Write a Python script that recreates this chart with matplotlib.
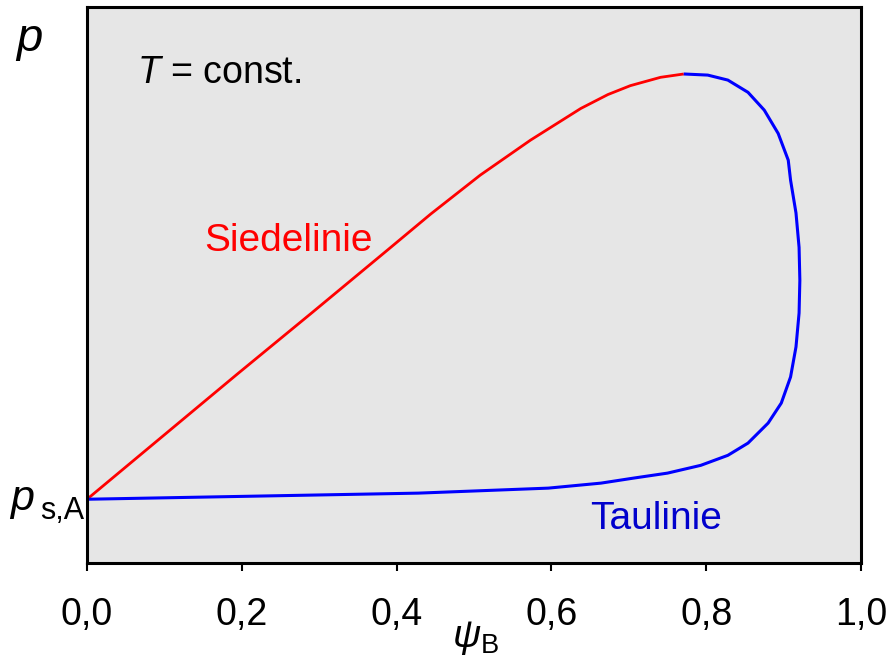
import matplotlib
matplotlib.use("Agg")
import matplotlib.pyplot as plt

plt.rcParams['font.family'] = ['Liberation Sans', 'DejaVu Sans']
plt.rcParams['mathtext.fontset'] = 'custom'
plt.rcParams['mathtext.rm'] = 'Liberation Sans'
plt.rcParams['mathtext.it'] = 'Liberation Sans:italic'

# Siedelinie (bubble line), x = psi_B, y = p (arbitrary units)
siede_x = [0.0, 0.194, 0.291, 0.388, 0.444, 0.508, 0.573, 0.638, 0.673, 0.702,
           0.741, 0.771]
siede_y = [0.115, 0.340, 0.451, 0.563, 0.628, 0.698, 0.761, 0.818, 0.843, 0.859,
           0.874, 0.880]

# Taulinie (dew line)
tau_x = [0.771, 0.802, 0.828, 0.854, 0.875, 0.893, 0.906, 0.909, 0.916, 0.920,
         0.921, 0.920, 0.916, 0.909, 0.897, 0.880, 0.854, 0.828, 0.793, 0.750,
         0.706, 0.664, 0.596, 0.428, 0.0]
tau_y = [0.880, 0.878, 0.869, 0.847, 0.815, 0.773, 0.725, 0.689, 0.630, 0.568,
         0.509, 0.450, 0.389, 0.335, 0.288, 0.252, 0.216, 0.194, 0.176, 0.162,
         0.153, 0.144, 0.135, 0.126, 0.115]

p_sA = 0.115
xticks = [0.0, 0.2, 0.4, 0.6, 0.8, 1.0]
xticklabels = ['0,0', '0,2', '0,4', '0,6', '0,8', '1,0']

fig = plt.figure(figsize=(8.89, 6.61), dpi=100)
ax = fig.add_axes([0.0979, 0.148, 0.8706, 0.841])
ax.set_facecolor('#e6e6e6')

ax.plot(siede_x, siede_y, color='#ff0000', lw=2.0, solid_capstyle='butt')
ax.plot(tau_x, tau_y, color='#0000ff', lw=2.2, solid_capstyle='butt')

ax.set_xlim(0, 1)
ax.set_ylim(0, 1)
ax.set_xticks(xticks)
ax.set_xticklabels(xticklabels, fontsize=27)
ax.set_yticks([])
ax.tick_params(axis='x', direction='out', length=6, width=1.5, pad=18)
for s in ax.spines.values():
    s.set_linewidth(2.2)

# axis labels
ax.text(0.502, -0.135, r'$\psi_\mathrm{B}$', transform=ax.transAxes,
        ha='center', va='center', fontsize=28)
ax.text(-0.075, 0.94, r'$p$', transform=ax.transAxes, ha='center', va='center', fontsize=34)
ax.text(-0.099, p_sA, 'p', style='italic', transform=ax.transAxes,
        ha='left', va='center', fontsize=31)
ax.text(-0.061, p_sA - 0.022, 's,A', transform=ax.transAxes,
        ha='left', va='center', fontsize=22)

ax.text(0.065, 0.882, r'$T$ = const.', transform=ax.transAxes,
        ha='left', va='center', fontsize=27)
ax.text(0.26, 0.58, 'Siedelinie', color='#ff0000', ha='center', va='center', fontsize=28)
ax.text(0.735, 0.08, 'Taulinie', color='#0000cc', ha='center', va='center', fontsize=28)

fig.savefig('out.png', dpi=100)
